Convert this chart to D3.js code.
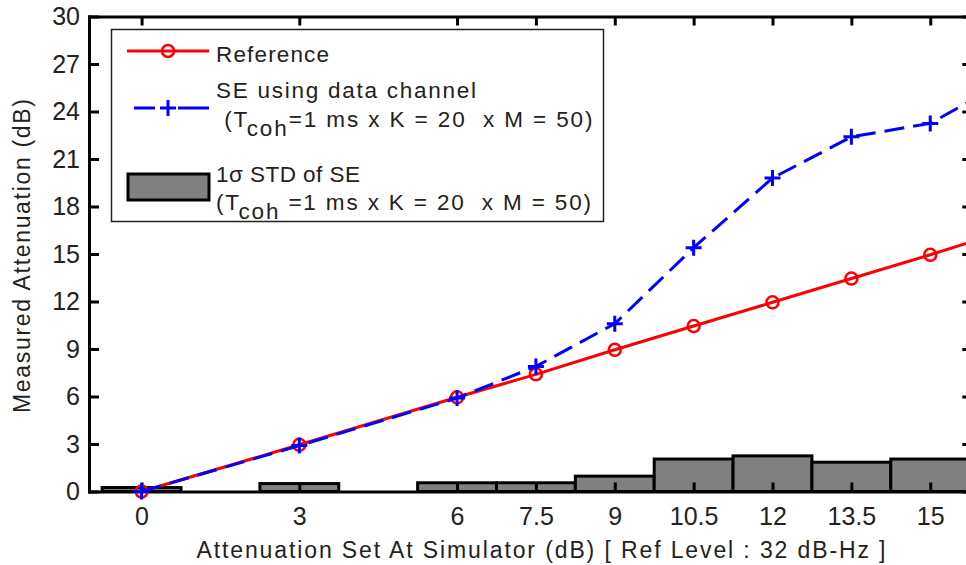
<!DOCTYPE html>
<html>
<head>
<meta charset="utf-8">
<script src="https://cdn.jsdelivr.net/npm/d3@7"></script>
<style>
  body { margin: 0; background: #fff; }
  svg { display: block; font-family: "Liberation Sans", Arial, sans-serif; }
  text { white-space: pre; }
</style>
</head>
<body>
<div id="chart"></div>
<script>
// attenuation settings (dB)
const xVals = [0, 3, 6, 7.5, 9, 10.5, 12, 13.5, 15, 16];
const refVals = [0, 2.95, 5.95, 7.4, 8.95, 10.45, 11.95, 13.45, 14.95, 16];
const seVals = [0, 2.9, 5.9, 7.9, 10.6, 15.4, 19.8, 22.4, 23.25, 25.1];
const barX = [0, 3, 6, 7.5, 9, 10.5, 12, 13.5, 15];
const stdVals = [0.25, 0.5, 0.55, 0.55, 0.97, 2.05, 2.25, 1.85, 2.05];
const xTicks = [0, 3, 6, 7.5, 9, 10.5, 12, 13.5, 15];
const yTicks = d3.range(0, 31, 3);

const width = 966, height = 565;
const mLeft = 89, mRight = 972.3, mTop = 16.5, mBottom = 491.5;

const svg = d3.select('#chart').append('svg')
    .attr('width', width)
    .attr('height', height);

const x = d3.scaleLinear().domain([-1, 15.8]).range([mLeft, mRight]);
const y = d3.scaleLinear().domain([0, 30]).range([mBottom, mTop]);

svg.append('defs').append('clipPath').attr('id', 'plot')
    .append('rect')
    .attr('x', mLeft).attr('y', mTop)
    .attr('width', mRight - mLeft).attr('height', mBottom - mTop);

const plot = svg.append('g').attr('clip-path', 'url(#plot)');

// std bars
plot.append('g')
    .selectAll('rect')
    .data(barX)
    .join('rect')
    .attr('x', d => x(d - 0.75))
    .attr('width', d => x(d + 0.75) - x(d - 0.75))
    .attr('y', (d, i) => y(stdVals[i]))
    .attr('height', (d, i) => y(0) - y(stdVals[i]))
    .attr('fill', '#808080')
    .attr('stroke', '#000')
    .attr('stroke-width', 3);

const line = d3.line().x(d => x(d[0])).y(d => y(d[1]));
const refPts = xVals.map((v, i) => [v, refVals[i]]);
const sePts = xVals.map((v, i) => [v, seVals[i]]);

plot.append('path')
    .attr('d', line(refPts))
    .attr('fill', 'none')
    .attr('stroke', '#ff0000')
    .attr('stroke-width', 3);

// axes
const axisStyle = g => {
    g.select('.domain').attr('stroke', '#000').attr('stroke-width', 3);
    g.selectAll('.tick line').attr('stroke', '#000').attr('stroke-width', 3);
    g.selectAll('.tick text').attr('fill', '#222').attr('font-size', 25);
};

svg.append('g')
    .attr('transform', `translate(0,${mBottom})`)
    .call(d3.axisBottom(x).tickValues(xTicks).tickFormat(d => String(d))
        .tickSize(-9).tickSizeOuter(0).tickPadding(16))
    .call(axisStyle);
svg.append('g')
    .attr('transform', `translate(0,${mTop})`)
    .call(d3.axisTop(x).tickValues(xTicks).tickSize(-9).tickSizeOuter(0).tickFormat(''))
    .call(axisStyle);
svg.append('g')
    .attr('transform', `translate(${mLeft},0)`)
    .call(d3.axisLeft(y).tickValues(yTicks).tickSize(-10).tickSizeOuter(0).tickPadding(9))
    .call(axisStyle);
svg.append('g')
    .attr('transform', `translate(${mRight},0)`)
    .call(d3.axisRight(y).tickValues(yTicks).tickSize(-10).tickSizeOuter(0).tickFormat(''))
    .call(axisStyle);

svg.selectAll('.domain').attr('stroke-linecap', 'square');

// lines and markers
svg.append('g').selectAll('circle')
    .data(refPts)
    .join('circle')
    .attr('cx', d => x(d[0]))
    .attr('cy', d => y(d[1]))
    .attr('r', 6)
    .attr('fill', 'none')
    .attr('stroke', '#ff0000')
    .attr('stroke-width', 2.5);

svg.append('path')
    .attr('clip-path', 'url(#plot)')
    .attr('d', line(sePts))
    .attr('fill', 'none')
    .attr('stroke', '#0000ff')
    .attr('stroke-width', 3)
    .attr('stroke-dasharray', '20,9');

const plus = (g, cx, cy) => {
    g.append('path')
        .attr('d', `M${cx - 8},${cy}H${cx + 8}M${cx},${cy - 8}V${cy + 8}`)
        .attr('stroke', '#0000ff')
        .attr('stroke-width', 3);
};
const plusG = svg.append('g');
sePts.forEach(d => plus(plusG, x(d[0]), y(d[1])));

// axis labels
svg.append('text')
    .attr('x', 541).attr('y', 558)
    .attr('text-anchor', 'middle')
    .attr('font-size', 23)
    .attr('fill', '#222')
    .attr('textLength', 689)
    .attr('lengthAdjust', 'spacing')
    .text('Attenuation Set At Simulator (dB) [ Ref Level : 32 dB-Hz ]');

svg.append('text')
    .attr('transform', 'translate(30,256) rotate(-90)')
    .attr('text-anchor', 'middle')
    .attr('font-size', 23)
    .attr('fill', '#222')
    .attr('textLength', 314)
    .attr('lengthAdjust', 'spacing')
    .text('Measured Attenuation (dB)');

// legend
const leg = svg.append('g');
leg.append('rect')
    .attr('x', 111.5).attr('y', 29.5)
    .attr('width', 492).attr('height', 192)
    .attr('fill', '#fff')
    .attr('stroke', '#222')
    .attr('stroke-width', 1.5);

leg.append('line')
    .attr('x1', 127).attr('x2', 209).attr('y1', 51).attr('y2', 51)
    .attr('stroke', '#ff0000').attr('stroke-width', 3);
leg.append('circle')
    .attr('cx', 168).attr('cy', 51).attr('r', 6)
    .attr('fill', 'none').attr('stroke', '#ff0000').attr('stroke-width', 2.5);

leg.append('line')
    .attr('x1', 134).attr('x2', 209).attr('y1', 108).attr('y2', 108)
    .attr('stroke', '#0000ff').attr('stroke-width', 3)
    .attr('stroke-dasharray', '21,23,31');
plus(leg, 168, 108);

leg.append('rect')
    .attr('x', 128).attr('y', 174)
    .attr('width', 81).attr('height', 26)
    .attr('fill', '#808080')
    .attr('stroke', '#000').attr('stroke-width', 3);

const legText = (tx, ty, str, len) => {
    leg.append('text')
        .attr('x', tx).attr('y', ty)
        .attr('font-size', 22.5)
        .attr('fill', '#222')
        .attr('textLength', len)
        .attr('lengthAdjust', 'spacing')
        .text(str);
};
const legSub = (tx, ty, pre, post, spacing) => {
    const t = leg.append('text')
        .attr('x', tx).attr('y', ty)
        .attr('font-size', 22.5)
        .attr('fill', '#222')
        .attr('letter-spacing', spacing);
    t.append('tspan').text(pre);
    t.append('tspan').attr('dy', 9).text('coh');
    t.append('tspan').attr('dy', -9).text(post);
};

legText(216, 62, 'Reference', 113);
legText(216, 98, 'SE using data channel', 260);
legSub(216, 127, ' (T', '=1 ms x K = 20  x M = 50)', 1.9);
legText(216, 182, '1σ STD of SE', 144);
legSub(216, 210, '(T', ' =1 ms x K = 20  x M = 50)', 1.85);
</script>
</body>
</html>
